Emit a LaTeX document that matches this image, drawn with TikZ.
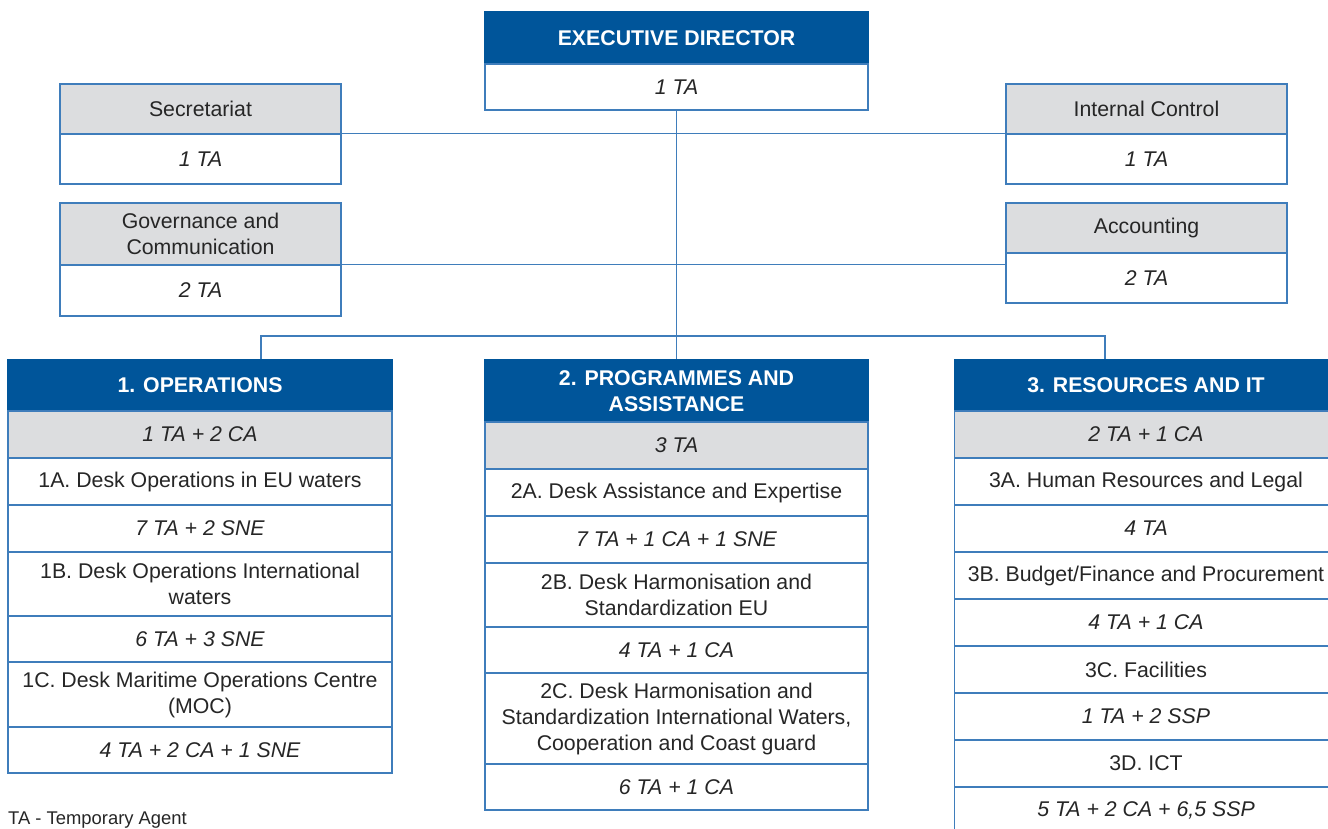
\documentclass[tikz,border=0pt]{standalone}
\usepackage{fontspec}
\setmainfont{Liberation Sans}
\definecolor{headblue}{HTML}{00559A}
\definecolor{lineblue}{HTML}{3F7DBB}
\definecolor{cellgray}{HTML}{DCDDDF}
\begin{document}
\begin{tikzpicture}[x=1pt,y=-1pt,
        box/.style={rectangle,draw=lineblue,line width=1.2pt,inner sep=2pt,align=center,
            font=\fontsize{21.3}{26}\selectfont,text=black!85},
        head/.style={box,fill=headblue,draw=headblue,text=white,font=\fontsize{21.3}{26}\selectfont\bfseries},
        sub/.style={box,fill=cellgray},
        cell/.style={box,fill=white},
        num/.style={cell,font=\fontsize{21.3}{26}\selectfont\itshape}]
    \useasboundingbox (0,0) rectangle (1328,828);
    \clip (0,0) rectangle (1328,828);
        % director and staff units
        \begin{scope}[every node/.style={minimum width=281pt}]
            \node (ed) [head,minimum width=383pt,minimum height=52pt] at (676.5,38) {EXECUTIVE DIRECTOR};
            \node (edn) [num,minimum width=383pt,minimum height=46pt] at (676.5,87) {1 TA};
            \node (sec) [sub,minimum height=50pt] at (200.5,109) {Secretariat};
            \node (secn) [num,minimum height=50pt] at (200.5,159) {1 TA};
            \node (gov) [sub,minimum height=62pt] at (200.5,234) {Governance and\\Communication};
            \node (govn) [num,minimum height=51pt] at (200.5,290.5) {2 TA};
            \node (ic) [sub,minimum height=50pt] at (1146.5,109) {Internal Control};
            \node (icn) [num,minimum height=50pt] at (1146.5,159) {1 TA};
            \node (acc) [sub,minimum height=50pt] at (1146.5,228) {Accounting};
            \node (accn) [num,minimum height=50pt] at (1146.5,278) {2 TA};
        \end{scope}
        % 1. operations
        \begin{scope}[every node/.style={minimum width=384pt}]
            \node (p1h) [head,minimum height=51pt] at (200,385.5) {1. OPERATIONS};
            \node (p1n) [sub,minimum height=47pt,font=\fontsize{21.3}{26}\selectfont\itshape] at (200,434.5) {1 TA + 2 CA};
            \node (d1a) [cell,minimum height=47pt] at (200,481.5) {1A. Desk Operations in EU waters};
            \node (d1an) [num,minimum height=47pt] at (200,528.5) {7 TA + 2 SNE};
            \node (d1b) [cell,minimum height=64pt] at (200,584) {1B. Desk Operations International\\waters};
            \node (d1bn) [num,minimum height=46pt] at (200,639) {6 TA + 3 SNE};
            \node (d1c) [cell,minimum height=65pt] at (200,694.5) {1C. Desk Maritime Operations Centre\\(MOC)};
            \node (d1cn) [num,minimum height=46pt] at (200,750) {4 TA + 2 CA + 1 SNE};
        \end{scope}
        % 2. programmes and assistance
        \begin{scope}[every node/.style={minimum width=383pt}]
            \node (p2h) [head,minimum height=62pt] at (676.5,391) {2. PROGRAMMES AND\\ASSISTANCE};
            \node (p2n) [sub,minimum height=47pt,font=\fontsize{21.3}{26}\selectfont\itshape] at (676.5,445.5) {3 TA};
            \node (d2a) [cell,minimum height=47pt] at (676.5,492.5) {2A. Desk Assistance and Expertise};
            \node (d2an) [num,minimum height=47pt] at (676.5,539.5) {7 TA + 1 CA + 1 SNE};
            \node (d2b) [cell,minimum height=64pt] at (676.5,595) {2B. Desk Harmonisation and\\Standardization EU};
            \node (d2bn) [num,minimum height=46pt] at (676.5,650) {4 TA + 1 CA};
            \node (d2c) [cell,minimum height=91pt] at (676.5,718.5) {2C. Desk Harmonisation and\\Standardization International Waters,\\Cooperation and Coast guard};
            \node (d2cn) [num,minimum height=46pt] at (676.5,787) {6 TA + 1 CA};
        \end{scope}
        % 3. resources and it
        \begin{scope}[every node/.style={minimum width=383pt,minimum height=47pt}]
            \node (p3h) [head,minimum height=51pt] at (1146,385.5) {3. RESOURCES AND IT};
            \node (p3n) [sub,font=\fontsize{21.3}{26}\selectfont\itshape] at (1146,434.5) {2 TA + 1 CA};
            \node (d3a) [cell] at (1146,481.5) {3A. Human Resources and Legal};
            \node (d3an) [num] at (1146,528.5) {4 TA};
            \node (d3b) [cell] at (1146,575.5) {3B. Budget/Finance and Procurement};
            \node (d3bn) [num] at (1146,622.5) {4 TA + 1 CA};
            \node (d3c) [cell] at (1146,669.5) {3C. Facilities};
            \node (d3cn) [num] at (1146,716.5) {1 TA + 2 SSP};
            \node (d3d) [cell] at (1146,763.5) {3D. ICT};
            \node (d3dn) [num] at (1146,810.5) {5 TA + 2 CA + 6,5 SSP};
        \end{scope}
        \node (key) [anchor=west,inner sep=0pt,font=\fontsize{18.4}{22}\selectfont,text=black!85] at (8,820) {TA - Temporary Agent};
        \coordinate (bar) at (676.5,336);
        \begin{scope}[every path/.style={draw=lineblue,line width=1.2pt}]
            \path (edn.south) -- (p2h.north);
            \path (secn.north east) -- (icn.north west);
            \path (govn.north east) -- (govn.north east -| accn.west);
            \path ([xshift=61pt]p1h.north) |- (bar) -| ([xshift=-41pt]p3h.north);
        \end{scope}
\end{tikzpicture}
\end{document}
